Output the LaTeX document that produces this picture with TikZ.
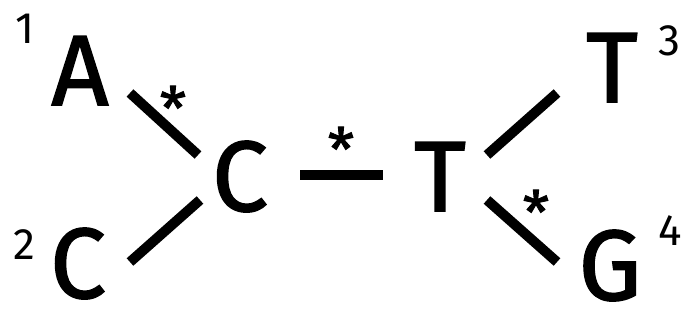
\documentclass[tikz,border=0pt]{standalone}
\usepackage{fontspec}
\setmainfont{Fira Sans}
\newfontfamily\medfont{Fira Sans}[FakeBold=1.5]
\begin{document}
\begin{tikzpicture}[x=1pt,y=-1pt,
  big/.style={inner sep=0pt,anchor=base,font=\fontsize{100}{100}\medfont},
  idx/.style={inner sep=0pt,anchor=base,font=\fontsize{44}{44}\selectfont},
  star/.style={inner sep=0pt,font=\fontsize{60}{60}\medfont},
  branch/.style={line width=10pt,line cap=butt}]
\useasboundingbox (0,0) rectangle (698,320);
% leaves and internal nodes
\node[big] (A)  at (80,105) {A};
\node[big] (C2) at (78,298) {C};
\node[big] (C)  at (240,211) {C};
\node[big] (T)  at (440,211) {T};
\node[big] (T3) at (612,102) {T};
\node[big] (G)  at (610,300) {G};
% indices
\node[idx] (n1) at (25,44) {1};
\node[idx] (n2) at (24,259) {2};
\node[idx] (n3) at (669,56) {3};
\node[idx] (n4) at (670,245) {4};
% branch end points
\coordinate (A-e)  at (130,93);
\coordinate (C-nw) at (198,155);
\coordinate (C2-e) at (130,262);
\coordinate (C-sw) at (200,200);
\coordinate (C-e)  at (300,175);
\coordinate (T-w)  at (383,175);
\coordinate (T-ne) at (487,155);
\coordinate (T3-w) at (557,93);
\coordinate (T-se) at (487,200);
\coordinate (G-w)  at (557,262);
% branches
\draw[branch] (A-e) -- (C-nw);
\draw[branch] (C2-e) -- (C-sw);
\draw[branch] (C-e) -- (T-w);
\draw[branch] (T-ne) -- (T3-w);
\draw[branch] (T-se) -- (G-w);
% mutation marks
\node[star] (s1) at (173,108) {*};
\node[star] (s2) at (341,149) {*};
\node[star] (s3) at (536,212) {*};
\end{tikzpicture}
\end{document}
